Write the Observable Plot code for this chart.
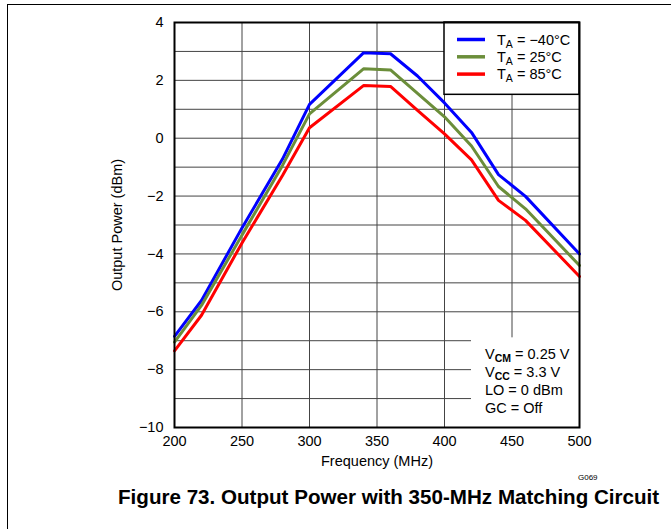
<!DOCTYPE html>
<html><head><meta charset="utf-8">
<script src="https://cdn.jsdelivr.net/npm/d3@7"></script>
<script src="https://cdn.jsdelivr.net/npm/@observablehq/plot@0.6"></script>
<style>
body{margin:0;background:#fff;font-family:"Liberation Sans",Arial,sans-serif;}
#wrap{position:relative;width:671px;height:529px;overflow:hidden;background:#fff;}
#border{position:absolute;left:7px;top:4px;width:800px;height:800px;border-top:1.5px solid #000;border-left:1.5px solid #000;}
#chart{position:absolute;left:0;top:0;}
#code{position:absolute;left:578px;top:473px;font-size:8px;color:#000;}
#title{position:absolute;left:118px;top:485px;font-size:20.6px;line-height:24px;font-weight:bold;white-space:nowrap;color:#000;}
</style>
</head><body>
<div id="wrap">
  <div id="border"></div>
  <div id="chart"></div>
  <div id="code">G069</div>
  <div id="title">Figure 73. Output Power with 350-MHz Matching Circuit</div>
</div>
<script>
// Data
const freq = [200, 220, 250, 280, 300, 340, 360, 380, 400, 420, 440, 460, 500];
const blueMinus40 = [-6.85, -5.61, -3.10, -0.72, 1.17, 2.95, 2.92, 2.15, 1.22, 0.20, -1.26, -2.01, -4.00];
const green25     = [-7.05, -5.78, -3.35, -0.94, 0.84, 2.40, 2.36, 1.55, 0.74, -0.27, -1.67, -2.44, -4.40];
const red85       = [-7.35, -6.12, -3.62, -1.29, 0.36, 1.82, 1.79, 0.96, 0.15, -0.75, -2.15, -2.84, -4.78];
const seriesNames = ["T_A = −40°C", "T_A = 25°C", "T_A = 85°C"];
const seriesColors = ["#0000ff", "#6b8e3a", "#ff0000"];
const xTicks = [200, 250, 300, 350, 400, 450, 500];
const yTicks = [-10, -8, -6, -4, -2, 0, 2, 4];
const yGrid = [-10, -9, -8, -7, -6, -5, -4, -3, -2, -1, 0, 1, 2, 3, 4];
const notes = [["V", "CM", " = 0.25 V"], ["V", "CC", " = 3.3 V"], ["LO = 0 dBm", "", ""], ["GC = Off", "", ""]];

const allSeries = [blueMinus40, green25, red85];
const rows = [];
allSeries.forEach((vals, i) => vals.forEach((v, j) => rows.push({f: freq[j], v, s: seriesNames[i]})));

const legendBox = {x1: 400, x2: 500, y1: 1.5, y2: 4};
const noteBox = {x1: 420, x2: 500, y1: -10, y2: -6.9};

const font = "'Liberation Sans', Arial, sans-serif";
const chart = Plot.plot({
  width: 671, height: 475,
  marginLeft: 174, marginRight: 92, marginTop: 22, marginBottom: 48,
  style: {fontFamily: font, fontSize: "14.5px", color: "#000", background: "transparent", overflow: "visible"},
  x: {domain: [200, 500]},
  y: {domain: [-10, 4]},
  color: {domain: seriesNames, range: seriesColors},
  marks: [
    Plot.ruleX(xTicks, {stroke: "#444", strokeWidth: 1, strokeOpacity: 1}),
    Plot.ruleY(yGrid, {stroke: "#444", strokeWidth: 1, strokeOpacity: 1}),
    Plot.line(rows, {x: "f", y: "v", z: "s", stroke: "s", strokeWidth: 3, strokeLinejoin: "miter"}),
    Plot.rect([legendBox], {x1: "x1", x2: "x2", y1: "y1", y2: "y2", fill: "white", stroke: "black", strokeWidth: 1.5}),
    Plot.rect([noteBox], {x1: "x1", x2: "x2", y1: "y1", y2: "y2", fill: "white"}),
    Plot.frame({stroke: "black", strokeWidth: 2}),
    Plot.axisX(xTicks, {tickSize: 0, tickPadding: 8, label: "Frequency (MHz)", labelAnchor: "center", labelArrow: "none", labelOffset: 38}),
    Plot.axisY(yTicks, {tickSize: 0, tickPadding: 11, label: "Output Power (dBm)", labelAnchor: "center", labelArrow: "none", labelOffset: 63})
  ]
});
document.getElementById("chart").appendChild(chart);

// Legend and annotation with subscripts, positioned through the chart's scales
const xs = chart.scale("x"), ys = chart.scale("y");
const svg = d3.select(chart);
const lg = svg.append("g").attr("font-family", font).attr("font-size", "14.5px").attr("text-anchor", "start").attr("fill", "#000");
const lx = xs.apply(legendBox.x1), ly = ys.apply(legendBox.y2);
seriesNames.forEach((name, i) => {
  const cy = ly + 17.5 + i * 17.3;
  lg.append("line").attr("x1", lx + 13).attr("x2", lx + 41).attr("y1", cy).attr("y2", cy)
    .attr("stroke", seriesColors[i]).attr("stroke-width", 3.5);
  const t = lg.append("text").attr("x", lx + 53).attr("y", cy + 5).attr("text-anchor", "start");
  const [a, rest] = name.split("_");
  const sub = rest.slice(0, 1), tail = rest.slice(1);
  t.append("tspan").text(a);
  t.append("tspan").attr("font-size", "10.5px").attr("dy", 3).text(sub);
  t.append("tspan").attr("dy", -3).text(tail);
});
const nx = xs.apply(noteBox.x1) + 14, ny = ys.apply(noteBox.y2);
notes.forEach((n, i) => {
  const t = lg.append("text").attr("x", nx).attr("y", ny + 22 + i * 18).attr("text-anchor", "start");
  t.append("tspan").text(n[0]);
  if (n[1]) {
    t.append("tspan").attr("font-size", "10.5px").attr("font-weight", "bold").attr("dy", 3).text(n[1]);
    t.append("tspan").attr("dy", -3).text(n[2]);
  }
});
</script>
</body></html>
